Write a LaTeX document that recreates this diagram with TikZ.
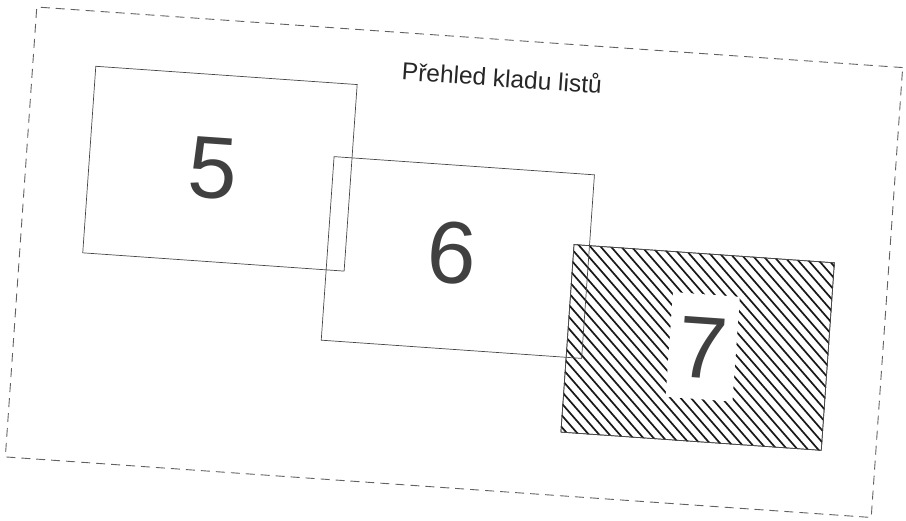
\documentclass[tikz,border=0pt]{standalone}
\usepackage{fontspec}
\setmainfont{Liberation Sans}
\begin{document}
\begin{tikzpicture}[x=1pt,y=1pt,
  frame/.style={draw=black!62, line width=0.9pt, dash pattern=on 9pt off 6pt},
  sheet/.style={draw=black!72, line width=0.7pt, minimum width=262pt, minimum height=187pt, inner sep=0pt},
  digit/.style={text=black!75, font=\fontsize{88}{88}\selectfont, text height=63pt, text depth=0pt, inner sep=0pt},
  hatch/.style={draw=black!90, line width=1.7pt},
  titletext/.style={text=black!85, font=\fontsize{24.5}{28}\selectfont, inner sep=0pt}]
\useasboundingbox (0,0) rectangle (906,-521);
\begin{scope}[shift={(454,-262.25)}, rotate=-4, transform shape]
  \node[frame, minimum width=868pt, minimum height=451pt, inner sep=0pt] (fr) at (0,0) {};
  \node[titletext] (title) at (35,188) {Přehled kladu listů};
  % sheet 5
  \node[sheet] (b5) at (-240,77) {};
  \node[digit] (d5) at (-247,78) {5};
  % sheet 7 (hatched)
  \node[sheet, minimum width=261pt, minimum height=188pt] (b7) at (249,-68) {};
  \begin{scope}
    \clip (b7.south west) rectangle (b7.north east);
    \foreach \c in {-60,-49,...,420} {
      \draw[hatch] (\c-40,40) -- (\c+200,-200);
    }
  \end{scope}
  \node[sheet, minimum width=261pt, minimum height=188pt] (b7e) at (249,-68) {};
  \node[digit, fill=white, minimum width=67pt, minimum height=105pt] (d7) at (254,-67) {7};
  % sheet 6
  \node[sheet, minimum width=261pt, minimum height=184pt] (b6) at (3.5,5) {};
  \node[digit] (d6) at (-3,10) {6};
\end{scope}
\end{tikzpicture}
\end{document}
